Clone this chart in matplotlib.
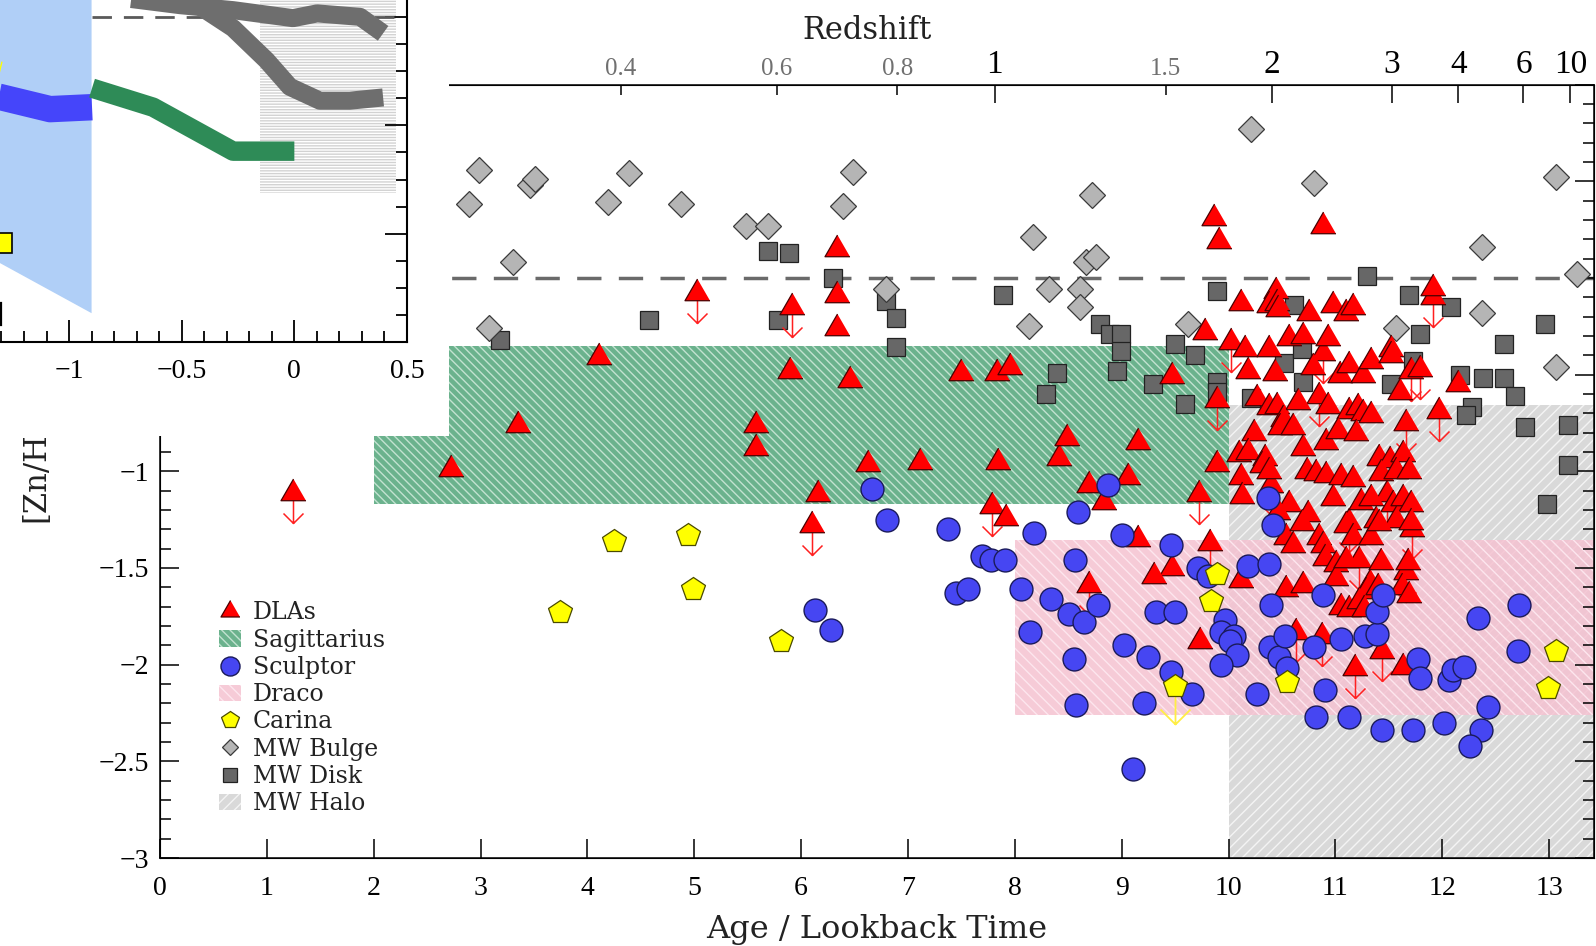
import numpy as np
import matplotlib
matplotlib.use('Agg')
import matplotlib.pyplot as plt
from matplotlib.patches import Rectangle, Polygon, Patch
from matplotlib.lines import Line2D
from matplotlib.path import Path
from matplotlib.ticker import MultipleLocator, FuncFormatter, FixedLocator

plt.rcParams['font.family'] = ['DejaVu Serif']
plt.rcParams['hatch.linewidth'] = 1.0

# ---- main panel data: (lookback time [Gyr], [Zn/H]) ----
dla = [(6.34, 0.15), (6.34, -0.09), (6.34, -0.26), (4.11, -0.41), (5.90, -0.48),
       (6.46, -0.53), (7.50, -0.49), (7.83, -0.49), (7.95, -0.46), (3.35, -0.76),
       (2.72, -0.99), (5.58, -0.76), (5.58, -0.88), (6.63, -0.96), (7.11, -0.95),
       (7.84, -0.95), (8.41, -0.93), (8.49, -0.83), (6.16, -1.12), (7.92, -1.24),
       (8.69, -1.07), (9.15, -0.85), (9.89, -0.96), (9.47, -0.51), (9.78, -0.28),
       (9.06, -1.03), (8.83, -1.16), (9.15, -1.35), (9.47, -1.50), (9.30, -1.54),
       (9.86, 0.31), (9.91, 0.19), (10.88, 0.27), (11.91, -0.05), (12.15, -0.55),
       (9.73, -1.88),
       (10.12, -0.13), (10.44, -0.07), (10.38, -0.14), (10.45, -0.13), (10.46, -0.16),
       (10.75, -0.18), (10.98, -0.14), (11.10, -0.18), (11.16, -0.15), (10.15, -0.37),
       (10.38, -0.37), (10.57, -0.31), (10.70, -0.30), (10.93, -0.31), (10.79, -0.46),
       (11.04, -0.50), (11.13, -0.45), (11.26, -0.50), (11.33, -0.43), (11.52, -0.37),
       (11.52, -0.40), (10.18, -0.48), (10.43, -0.49), (11.60, -0.59), (10.27, -0.62),
       (10.38, -0.67), (10.45, -0.66), (10.65, -0.64), (10.93, -0.66), (11.13, -0.69),
       (11.21, -0.67), (11.26, -0.70), (11.33, -0.71), (10.51, -0.73), (10.48, -0.77),
       (10.24, -0.80), (10.60, -0.77), (10.91, -0.85), (11.02, -0.79), (11.19, -0.80),
       (10.70, -0.88), (10.10, -0.91), (10.18, -0.90), (10.34, -0.93), (10.31, -0.97),
       (10.73, -1.00), (10.82, -1.01), (10.91, -1.02), (11.05, -1.03), (11.16, -1.04),
       (11.41, -0.93), (11.51, -0.94), (11.63, -0.91), (11.43, -1.01), (11.57, -1.00),
       (11.69, -1.00), (10.12, -1.03), (10.38, -1.00), (10.98, -1.14), (11.24, -1.16),
       (11.33, -1.14), (11.54, -1.17), (11.63, -1.14), (11.71, -1.17), (10.13, -1.13),
       (10.57, -1.17), (10.46, -1.21), (10.74, -1.22), (11.38, -1.25), (11.57, -1.25),
       (11.71, -1.26),
       (10.12, -1.56), (10.54, -1.34), (10.60, -1.38), (10.69, -1.27), (10.85, -1.34),
       (10.88, -1.38), (11.10, -1.28), (11.16, -1.34), (11.33, -1.34), (11.41, -1.27),
       (10.90, -1.45), (11.01, -1.48), (11.01, -1.55), (11.10, -1.46), (11.43, -1.47),
       (11.68, -1.47), (11.62, -1.60), (11.69, -1.64), (11.32, -1.58), (11.29, -1.62),
       (10.54, -1.61), (10.70, -1.59), (11.05, -1.70), (11.13, -1.71), (11.22, -1.67),
       (11.27, -1.71), (11.40, -1.60), (11.63, -2.01)]

dla_limits = [(1.24, -1.11), (5.03, -0.08), (5.91, -0.15), (6.10, -1.28), (7.79, -1.18),
              (8.69, -1.59), (9.89, -0.63), (9.72, -1.12), (9.83, -1.37), (11.91, -0.10),
              (10.02, -0.33), (10.88, -0.39), (11.71, -0.48), (11.79, -0.47), (10.85, -0.61),
              (11.97, -0.69), (10.40, -1.07), (11.72, -1.30), (10.63, -1.83), (10.87, -1.85),
              (11.44, -1.93), (11.18, -2.02), (11.66, -0.75), (11.48, -1.12), (11.13, -1.26),
              (11.66, -1.52), (11.22, -1.46)]

sculptor = [(6.66, -1.09), (6.80, -1.25), (7.37, -1.30), (7.69, -1.44), (7.78, -1.46),
            (7.91, -1.46), (7.45, -1.63), (7.56, -1.61), (6.13, -1.72), (6.28, -1.82),
            (8.18, -1.32), (8.06, -1.61), (8.14, -1.83), (8.34, -1.66), (8.51, -1.74),
            (8.65, -1.78), (8.56, -1.46), (8.59, -1.21), (8.55, -1.97), (8.57, -2.21),
            (8.78, -1.69), (9.02, -1.90), (9.25, -1.96), (9.46, -2.04), (9.66, -2.15),
            (9.21, -2.20), (9.11, -2.54), (9.32, -1.73), (9.50, -1.73), (9.71, -1.50),
            (9.81, -1.54), (9.97, -1.77), (9.93, -1.83), (10.05, -1.85), (10.01, -1.88),
            (10.08, -1.95), (9.93, -2.00), (10.27, -2.15), (10.40, -1.69), (10.39, -1.91),
            (10.47, -1.96), (10.55, -2.02), (10.53, -1.85), (10.80, -1.91), (10.88, -1.64),
            (11.05, -1.87), (11.28, -1.85), (11.39, -1.84), (11.39, -1.73), (11.45, -1.64),
            (10.90, -2.13), (10.82, -2.27), (11.13, -2.27), (11.44, -2.34), (11.73, -2.34),
            (11.77, -1.97), (11.79, -2.07), (12.06, -2.08), (12.10, -2.03), (12.20, -2.01),
            (12.02, -2.30), (12.43, -2.22), (12.36, -2.34), (12.26, -2.42), (12.33, -1.76),
            (12.71, -1.93), (12.72, -1.69), (10.18, -1.49), (10.38, -1.48), (10.42, -1.28),
            (10.37, -1.14), (8.87, -1.07), (9.00, -1.33), (9.46, -1.38)]

carina = [(4.25, -1.36), (4.94, -1.33), (4.99, -1.61), (3.74, -1.73), (5.81, -1.88),
          (9.89, -1.53), (9.84, -1.67), (10.55, -2.09), (13.06, -1.93), (12.99, -2.12)]
carina_limits = [(9.50, -2.11)]

mw_bulge = [(2.99, 0.56), (2.89, 0.38), (3.46, 0.48), (3.51, 0.51), (3.30, 0.08),
            (3.08, -0.26), (4.19, 0.39), (4.39, 0.54), (4.88, 0.38), (5.48, 0.27),
            (5.69, 0.27), (6.49, 0.55), (6.39, 0.37), (6.79, -0.06), (8.17, 0.21),
            (8.72, 0.43), (8.67, 0.08), (8.76, 0.11), (8.32, -0.06), (8.61, -0.06),
            (8.61, -0.15), (8.13, -0.25), (9.62, -0.24), (10.21, 0.77), (10.80, 0.49),
            (11.57, -0.26), (12.37, 0.16), (12.37, -0.18), (13.06, 0.52), (13.26, 0.02),
            (13.06, -0.46)]

mw_disk = [(5.69, 0.14), (5.89, 0.13), (6.30, 0.00), (6.79, -0.12), (6.89, -0.21),
           (6.89, -0.36), (4.58, -0.22), (5.78, -0.22), (3.18, -0.32), (7.89, -0.09),
           (8.80, -0.24), (8.89, -0.29), (8.99, -0.29), (8.99, -0.38), (8.96, -0.48),
           (8.39, -0.49), (8.29, -0.60), (9.29, -0.55), (9.50, -0.34), (9.69, -0.40),
           (9.59, -0.65), (9.89, -0.54), (9.89, -0.59), (9.89, -0.07), (11.30, 0.01),
           (11.69, -0.09), (12.08, -0.15), (11.79, -0.29), (12.96, -0.24), (12.58, -0.34),
           (12.17, -0.50), (12.38, -0.52), (12.58, -0.52), (12.68, -0.61), (12.28, -0.67),
           (12.22, -0.71), (10.61, -0.14), (10.52, -0.44), (10.70, -0.54), (10.69, -0.37),
           (10.21, -0.62), (11.52, -0.55), (11.73, -0.43), (12.77, -0.77), (13.18, -0.76),
           (13.18, -0.97), (12.98, -1.17)]

# shaded dwarf-galaxy / halo ranges: (age min, age max, [Zn/H] min, [Zn/H] max)
sagittarius_box = (2.0, 10.0, -1.17, -0.35)
draco_box = (8.0, 14.0, -2.26, -1.354)
mw_halo_box = (10.0, 14.0, -3.0, -0.656)

# redshift axis (lookback time position of each redshift tick)
z_major = ['1', '2', '3', '4', '6', '10']
z_major_age = [7.81, 10.41, 11.53, 12.15, 12.76, 13.20]
z_minor = ['0.4', '0.6', '0.8', '1.5']
z_minor_age = [4.31, 5.77, 6.90, 9.41]

# ---- inset panel data ----
inset_xticks = [-1.0, -0.5, 0.0, 0.5]
inset_blue_band = [(-1.5, 0.35), (-0.9, 0.35), (-0.9, -1.367), (-1.306, -1.136), (-1.5, -1.026)]
inset_blue_x = [-1.5, -1.306, -1.084, -0.898]
inset_blue_y = [-0.33, -0.369, -0.425, -0.416]
inset_green_x = [-0.898, -0.627, -0.272, 0.0]
inset_green_y = [-0.328, -0.416, -0.619, -0.619]
inset_grayA_x = [-0.85, -0.507, -0.272, -0.006, 0.101, 0.292, 0.394]
inset_grayA_y = [0.10, 0.055, 0.032, -0.005, 0.017, 0.001, -0.075]
inset_grayB_x = [-0.42, -0.272, -0.124, -0.020, 0.113, 0.246, 0.394]
inset_grayB_y = [0.05, -0.051, -0.199, -0.322, -0.386, -0.386, -0.371]
inset_hatch_box = (-0.152, 0.451, -0.814, 0.35)


def minus_fmt(v, pos):
    return f'{v:g}'.replace('-', '\u2212')


def arrow_path(start, tip, half_w, head_len):
    verts = [(0, -start), (0, -tip), (-half_w, -tip + head_len), (0, -tip),
             (half_w, -tip + head_len)]
    codes = [Path.MOVETO, Path.LINETO, Path.MOVETO, Path.LINETO, Path.LINETO]
    return Path(verts, codes)


TRI = [(0, 1), (-0.866, -0.5), (0.866, -0.5)]
RED, RED_EDGE = '#ff0000', '#4a0000'
BLUE, BLUE_EDGE = '#4646f2', '#1a1a5a'
YELLOW, YELLOW_EDGE = '#ffff00', '#4a4a00'
BULGE, DISK = '#b5b5b5', '#676767'
SGR_FACE, SGR_LINE = '#6bb28d', '#c2e2d0'
DRA_FACE, DRA_LINE = (0.96, 0.76, 0.82, 0.85), '#fde6ee'
HALO_FACE, HALO_LINE = '#d9d9d9', '#f4f4f4'

W, H = 1596, 946
fig = plt.figure(figsize=(W / 100, H / 100), dpi=100)
ax = fig.add_axes([160 / W, 1 - 858 / H, (1594 - 160) / W, (858 - 84.5) / H])
ax.set_xlim(0, 13.42)
ax.set_ylim(-3, 1.0)

for (x0, x1, y0, y1), face, line, hatch in [
        (mw_halo_box, HALO_FACE, HALO_LINE, '///'),
        (sagittarius_box, SGR_FACE, SGR_LINE, '\\\\\\\\'),
        (draco_box, DRA_FACE, DRA_LINE, '\\\\\\')]:
    ax.add_patch(Rectangle((x0, y0), x1 - x0, y1 - y0, facecolor=face,
                           edgecolor=line, hatch=hatch, lw=0, zorder=1))

ax.axhline(0, color='#6a6a6a', lw=2.5, ls=(0, (7, 5)), zorder=1.5)

dx, dy = np.array(mw_disk).T
ax.plot(dx, dy, ls='none', marker='s', ms=13.5, mfc=DISK, mec='#222222', mew=0.9, zorder=2)
bx, by = np.array(mw_bulge).T
ax.plot(bx, by, ls='none', marker='D', ms=13, mfc=BULGE, mec='#3a3a3a', mew=0.9, zorder=2.1)

lim_arrow = arrow_path(7, 30, 10, 10)
lx, ly = np.array(dla_limits).T
ax.plot(lx, ly, ls='none', marker=lim_arrow, ms=43.2, mfc='none', mec='#ff2020',
        mew=1.1, zorder=2.2)
ax.plot(lx, ly, ls='none', marker=TRI, ms=20.8, mfc=RED, mec=RED_EDGE, mew=0.9, zorder=2.3)
tx, ty = np.array(dla).T
ax.plot(tx, ty, ls='none', marker=TRI, ms=20.8, mfc=RED, mec=RED_EDGE, mew=0.9, zorder=2.3)

sx, sy = np.array(sculptor).T
ax.plot(sx, sy, ls='none', marker='o', ms=16.5, mfc=BLUE, mec=BLUE_EDGE, mew=1.0, zorder=2.4)

cl_x, cl_y = np.array(carina_limits).T
ax.plot(cl_x, cl_y, ls='none', marker=arrow_path(8, 38, 15, 15), ms=54.7, mfc='none',
        mec='#ffee44', mew=1.3, zorder=2.45)
cx, cy = np.array(carina + carina_limits).T
ax.plot(cx, cy, ls='none', marker='p', ms=17.5, mfc=YELLOW, mec=YELLOW_EDGE, mew=0.9, zorder=2.5)

ax.xaxis.set_major_locator(MultipleLocator(1))
ax.yaxis.set_major_locator(MultipleLocator(0.5))
ax.yaxis.set_minor_locator(MultipleLocator(0.1))
ax.xaxis.set_major_formatter(FuncFormatter(minus_fmt))
ax.yaxis.set_major_formatter(FuncFormatter(minus_fmt))
ax.tick_params(which='both', direction='in', right=True, top=False, width=1.1,
               labelsize=20, labelfontfamily='Liberation Serif')
ax.tick_params(which='major', length=14)
ax.tick_params(which='minor', length=8)
ax.tick_params(axis='x', which='major', pad=13)
ax.tick_params(axis='y', which='major', pad=8)
for sp in ax.spines.values():
    sp.set_linewidth(1.1)

ax.set_xlabel('Age / Lookback Time', fontsize=23, color='#222222')
ax.xaxis.label.set_va('baseline')
ax.xaxis.set_label_coords(0.5, -0.104)
ax.set_ylabel('[Zn/H]', fontsize=22, color='#222222')
ax.yaxis.label.set_va('center')
ax.yaxis.set_label_coords(-0.0865, 0.5)

twin = ax.twiny()
twin.set_xlim(ax.get_xlim())
twin.set_xticks(z_major_age, labels=z_major)
twin.set_xticks(z_minor_age, labels=z_minor, minor=True)
twin.tick_params(axis='x', which='both', direction='in', width=1.1, pad=3.3,
                 labelfontfamily='Liberation Serif')
twin.tick_params(axis='x', which='major', length=13, labelsize=24)
twin.tick_params(axis='x', which='minor', length=7, labelsize=18, labelcolor='#707070')
twin.set_xlabel('Redshift', fontsize=22, color='#222222')
twin.xaxis.label.set_va('baseline')
twin.xaxis.set_label_coords(0.493, 1.0592)

handles = [
    Line2D([], [], ls='none', marker=TRI, ms=15.8, mfc=RED, mec=RED_EDGE, mew=0.9, label='DLAs'),
    Patch(facecolor=SGR_FACE, edgecolor=SGR_LINE, hatch='\\\\\\\\', lw=0, label='Sagittarius'),
    Line2D([], [], ls='none', marker='o', ms=13.7, mfc=BLUE, mec=BLUE_EDGE, mew=1.0, label='Sculptor'),
    Patch(facecolor=DRA_FACE, edgecolor=DRA_LINE, hatch='\\\\\\', lw=0, label='Draco'),
    Line2D([], [], ls='none', marker='p', ms=12.9, mfc=YELLOW, mec=YELLOW_EDGE, mew=0.9, label='Carina'),
    Line2D([], [], ls='none', marker='D', ms=8.1, mfc=BULGE, mec='#3a3a3a', mew=0.9, label='MW Bulge'),
    Line2D([], [], ls='none', marker='s', ms=10, mfc=DISK, mec='#222222', mew=0.9, label='MW Disk'),
    Patch(facecolor=HALO_FACE, edgecolor=HALO_LINE, hatch='///', lw=0, label='MW Halo'),
]
ax.legend(handles=handles, loc='upper left', bbox_to_anchor=(0.041, 0.3318), frameon=False,
          borderpad=0, borderaxespad=0, handlelength=0.94, handletextpad=0.5,
          labelspacing=0.18, fontsize=17, labelcolor='#222222')

# white panel of the overlapping inset
fig.add_artist(Rectangle((0, 1 - 436 / H), 449 / W, 436 / H, transform=fig.transFigure,
                         facecolor='white', edgecolor='none', zorder=1))

ins = fig.add_axes([-43.6 / W, 1 - 342 / H, 450.6 / W, 389.9 / H])
ins.set_zorder(2)
ins.set_xlim(-1.5, 0.5)
ins.set_ylim(-1.5, 0.3)
hx0, hx1, hy0, hy1 = inset_hatch_box
ins.add_patch(Rectangle((hx0, hy0), hx1 - hx0, hy1 - hy0, facecolor='white',
                        edgecolor='#d2d2d2', hatch='------', lw=0, zorder=1))
ins.plot([-0.9, 0.5], [0, 0], color='#5a5a5a', lw=2, ls=(0, (7, 4.3)), zorder=2)
ins.add_patch(Polygon(inset_blue_band, closed=True, facecolor='#b0cff7', edgecolor='none', zorder=3))
ins.plot(inset_blue_x, inset_blue_y, color='#4545fa', lw=19, solid_capstyle='butt',
         solid_joinstyle='round', zorder=4)
ins.plot(inset_green_x, inset_green_y, color='#2e8b57', lw=14, solid_capstyle='butt',
         solid_joinstyle='round', zorder=4)
ins.plot(inset_grayA_x, inset_grayA_y, color='#6e6e6e', lw=13, solid_capstyle='butt',
         solid_joinstyle='round', zorder=4)
ins.plot(inset_grayB_x, inset_grayB_y, color='#6e6e6e', lw=13, solid_capstyle='butt',
         solid_joinstyle='round', zorder=4)
ins.plot([-1.5, -1.305], [-0.20, -0.25], color='#ffff00', lw=14, solid_capstyle='butt', zorder=4)
ins.plot([-1.297], [-1.043], ls='none', marker='s', ms=14.4, mfc=YELLOW, mec='black', mew=1.2, zorder=5)
ins.plot([-1.303, -1.303], [-1.32, -1.42], color='black', lw=1.6, zorder=5)

ins.xaxis.set_major_locator(FixedLocator(inset_xticks))
ins.xaxis.set_minor_locator(MultipleLocator(0.1))
ins.yaxis.set_major_locator(MultipleLocator(0.5))
ins.yaxis.set_minor_locator(MultipleLocator(0.125))
ins.xaxis.set_major_formatter(FuncFormatter(minus_fmt))
ins.tick_params(which='both', direction='in', right=True, left=True, top=True,
                labelleft=False, width=1.3, labelsize=20, labelfontfamily='Liberation Serif')
ins.tick_params(which='major', length=16)
ins.tick_params(which='minor', length=8)
ins.tick_params(axis='x', which='major', pad=12)
for sp in ins.spines.values():
    sp.set_linewidth(1.5)

fig.savefig('out.png', dpi=100, facecolor='white')
